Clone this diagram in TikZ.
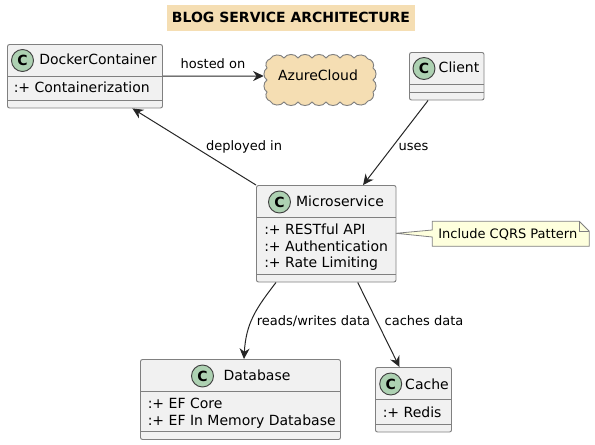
\documentclass[tikz,border=0pt]{standalone}
\usepackage{fontspec}
\setmainfont{DejaVu Sans}
\usetikzlibrary{arrows.meta,positioning}
\definecolor{wheatfill}{HTML}{F5DEB3}
\definecolor{boxfill}{HTML}{F1F1F1}
\definecolor{iconfill}{HTML}{ADD1B2}
\definecolor{notefill}{HTML}{FEFFDD}
\tikzset{
    classbox/.style 2 args={draw=gray,line width=0.7pt,fill=boxfill,rounded corners=1.5pt,inner sep=0,minimum width=#1*0.75pt,minimum height=#2*0.75pt},
    classicon/.style={circle,draw=black!75,line width=0.7pt,fill=iconfill,inner sep=0,minimum size=16.5pt,font=\fontsize{10.5}{12}\bfseries},
    classname/.style={anchor=base,inner sep=0,font=\fontsize{10.5}{12}\selectfont},
    member/.style={anchor=base west,inner sep=0,font=\fontsize{10.5}{12}\selectfont},
    linklabel/.style={anchor=base,inner sep=0,font=\fontsize{9.75}{12}\selectfont},
    sepline/.style={draw=gray,line width=0.7pt},
    link/.style={draw=black!85,line width=0.75pt,-{Stealth[length=8pt,width=7.5pt,inset=2.6pt]}}
}

\begin{document}
\begin{tikzpicture}[x=0.75pt,y=-0.75pt]
    \useasboundingbox (0,0) rectangle (595,445);
    \node[fill=wheatfill,minimum width=186.6pt,minimum height=19.5pt,inner sep=0] (titlebox) at (291,18) {};
    \node[anchor=base,inner sep=0,font=\fontsize{10.5}{12}\bfseries] (title) at (291,23) {BLOG SERVICE ARCHITECTURE};

    \node[classbox={155}{63.5}] (docker) at (85,76.25) {};
    \node[classbox={74.5}{47.5}] (client) at (446.75,76.25) {};
    \node[classbox={139.5}{96.5}] (micro) at (326.25,233.75) {};
    \node[classbox={200}{80}] (database) at (240.5,399.5) {};
    \node[classbox={76}{64.5}] (cache) at (413.5,399.75) {};

    % cloud outline
    \draw[draw=gray,line width=0.7pt,fill=wheatfill] (270,59)
        \foreach \px/\py in {284/58,298/58,312/58,326/58,340/58,354/58,368/59,373/68,373/80,373/92,368/101,354/102,340/102,326/102,312/102,298/102,284/102,270/101,267/92,267/80,267/68,270/59} { to[bend left=60] (\px,\py) } -- cycle;
    \node[inner sep=0,minimum width=84pt,minimum height=37.5pt] (azure) at (320,80) {};

    % compartments
    \draw[sepline] (7.5,76) -- (162.5,76) (7.5,100) -- (162.5,100);
    \draw[sepline] (409.5,84.5) -- (484,84.5) (409.5,92.5) -- (484,92.5);
    \draw[sepline] (256.5,217) -- (396,217) (256.5,274) -- (396,274);
    \draw[sepline] (140.5,391.5) -- (340.5,391.5) (140.5,431) -- (340.5,431);
    \draw[sepline] (375.5,399.5) -- (451.5,399.5) (375.5,424) -- (451.5,424);

    \node[classicon] (dockericon) at (22.5,60.5) {C};
    \node[classicon] (clienticon) at (424,68.5) {C};
    \node[classicon] (microicon) at (279.5,202) {C};
    \node[classicon] (databaseicon) at (202.5,376) {C};
    \node[classicon] (cacheicon) at (390.7,384) {C};

    \node[classname] (dockername) at (98,65) {DockerContainer};
    \node[classname] (clientname) at (459,73) {Client};
    \node[classname] (microname) at (340,206) {Microservice};
    \node[classname] (databasename) at (257,380) {Database};
    \node[classname] (cachename) at (427,389) {Cache};
    \node[classname] (azurename) at (318,81) {AzureCloud};

    \node[member] (docker1) at (13.5,93) {:+ Containerization};
    \node[member] (micro1) at (264,234) {:+ RESTful API};
    \node[member] (micro2) at (264,251) {:+ Authentication};
    \node[member] (micro3) at (264,267) {:+ Rate Limiting};
    \node[member] (database1) at (147.5,408) {:+ EF Core};
    \node[member] (database2) at (147.5,425) {:+ EF In Memory Database};
    \node[member] (cache1) at (382.5,417) {:+ Redis};

    % note
    \draw[draw=gray,line width=0.6pt,fill=notefill] (432.3,221.3) -- (579.3,221.3) -- (589.3,231.3) -- (589.3,246.3) -- (432.3,246.3) -- (432.3,237) -- (396,233.3) -- (432.3,230) -- cycle;
    \draw[draw=gray,line width=0.6pt] (579.3,221.3) -- (579.3,231.3) -- (589.3,231.3);
    \node[anchor=base west,inner sep=0,font=\fontsize{9.75}{12}\selectfont] (notetext) at (438,238) {Include CQRS Pattern};

    \draw[link] (docker.east) -- ([yshift=3pt]azure.west);
    \draw[link] (micro.north west) -- ([xshift=35.6pt]docker.south);
    \draw[link] ([xshift=-14pt]client.south) -- ([xshift=27.6pt]micro.north);
    \draw[link] ([xshift=-37.7pt]micro.south) .. controls +(-20,26) and +(2,-36) .. ([xshift=2.6pt]database.north);
    \draw[link] ([xshift=23.6pt]micro.south) -- ([xshift=-10.5pt]cache.north);

    \node[linklabel] (hosted) at (213,69) {hosted on};
    \node[linklabel] (deployed) at (244,151) {deployed in};
    \node[linklabel] (uses) at (413.5,151) {uses};
    \node[linklabel] (reads) at (313.5,325) {reads/writes data};
    \node[linklabel] (caches) at (424,325) {caches data};
\end{tikzpicture}
\end{document}
